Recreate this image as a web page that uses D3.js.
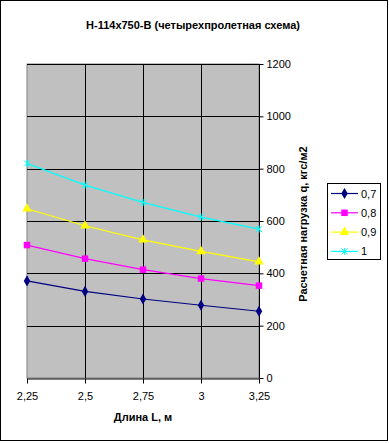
<!DOCTYPE html>
<html><head><meta charset="utf-8">
<script src="https://cdn.jsdelivr.net/npm/d3@7"></script>
<style>body{margin:0;background:#fff}svg{display:block;font-family:Arial,"Liberation Sans",sans-serif}</style>
</head><body>
<script>
const categories = ["2,25","2,5","2,75","3","3,25"];
const yTicks = [0,200,400,600,800,1000,1200];
const seriesNames = ["0,7","0,8","0,9","1"];
const s07 = [371,331,302,278,255];
const s08 = [508,456,414,380,353];
const s09 = [647,582,528,484,444];
const s10 = [820,737,671,615,569];
const seriesValues = [s07,s08,s09,s10];
const colors = ["#000080","#FF00FF","#FFFF00","#00FFFF"];
const symbols = ["diamond","square","triangle","star"];

const W=389,H=443;
const svg=d3.select("body").append("svg").attr("width",W).attr("height",H);
svg.append("rect").attr("x",0.5).attr("y",0.5).attr("width",W-2).attr("height",H-3).attr("fill","#fff").attr("stroke","#000");

const L=27,R=259,T=64,B=378;
const x=d3.scalePoint().domain(categories).range([L,R]);
const y=d3.scaleLinear().domain([0,1200]).range([B,T]);

svg.append("rect").attr("x",L).attr("y",T).attr("width",R-L).attr("height",B-T).attr("fill","#C0C0C0").attr("stroke","#808080");
// gridlines
svg.append("g").selectAll("line").data(yTicks.filter(d=>d>0)).join("line")
 .attr("x1",L).attr("x2",R).attr("y1",d=>Math.round(y(d))+0.5).attr("y2",d=>Math.round(y(d))+0.5).attr("stroke","#000");
svg.append("g").selectAll("line").data(categories.slice(1,-1)).join("line")
 .attr("y1",T).attr("y2",B).attr("x1",d=>Math.round(x(d))+0.5).attr("x2",d=>Math.round(x(d))+0.5).attr("stroke","#000");

// axes
const ya=svg.append("g").attr("transform",`translate(${R+0.5},0)`).call(d3.axisRight(y).tickValues(yTicks).tickFormat(d3.format("d")).tickSize(4).tickPadding(3));
const xa=svg.append("g").attr("transform",`translate(0,${B+0.5})`).call(d3.axisBottom(x).tickSize(5).tickPadding(9).tickSizeOuter(0));
[ya,xa].forEach(g=>{g.selectAll("path,line").attr("stroke","#000");g.selectAll("text").attr("font-size",11).attr("fill","#000").attr("font-family","Arial,'Liberation Sans',sans-serif");});
ya.select(".domain").attr("d",`M0,${T}V${B}`);

// series
const line=d3.line().x((d,i)=>x(categories[i])).y(d=>y(d));
function sym(k){
  if(k==="diamond") return d3.symbol(d3.symbolDiamond,36)();
  if(k==="square") return d3.symbol(d3.symbolSquare,42)();
  if(k==="triangle") return d3.symbol(d3.symbolTriangle,40)();
  return null;
}
function drawMarker(g,k,c,cx,cy){
  if(k==="star"){
    const p=`M${cx-3},${cy-3}L${cx+3},${cy+3}M${cx-3},${cy+3}L${cx+3},${cy-3}M${cx},${cy-3.5}V${cy+3.5}`;
    g.append("path").attr("d",p).attr("stroke",c).attr("stroke-width",1).attr("fill","none");
  } else {
    g.append("path").attr("d",sym(k)).attr("transform",`translate(${cx},${cy})`).attr("fill",c);
  }
}
seriesValues.forEach((vals,si)=>{
  const g=svg.append("g");
  g.append("path").attr("d",line(vals)).attr("fill","none").attr("stroke",colors[si]).attr("stroke-width",1.2);
  vals.forEach((v,i)=>drawMarker(g,symbols[si],colors[si],x(categories[i]),y(v)));
});

// legend
const lg=svg.append("g");
lg.append("rect").attr("x",327.5).attr("y",183.5).attr("width",53).attr("height",76).attr("fill","#fff").attr("stroke","#000");
seriesNames.forEach((n,i)=>{
  const yy=193.5+i*19.3;
  lg.append("line").attr("x1",331).attr("x2",358).attr("y1",yy).attr("y2",yy).attr("stroke",colors[i]).attr("stroke-width",1.2);
  drawMarker(lg,symbols[i],colors[i],344.5,yy);
  lg.append("text").attr("x",361).attr("y",yy+4).attr("font-size",11).text(n);
});

// titles
svg.append("text").attr("x",193).attr("y",29).attr("text-anchor","middle").attr("font-size",11).attr("font-weight","bold").text("Н-114х750-В (четырехпролетная схема)");
svg.append("text").attr("x",143).attr("y",421).attr("text-anchor","middle").attr("font-size",11).attr("font-weight","bold").text("Длина L, м");
svg.append("text").attr("transform","translate(307,224) rotate(-90)").attr("text-anchor","middle").attr("font-size",11).attr("font-weight","bold").text("Расчетная нагрузка q, кгс/м2");
</script>
</body></html>
